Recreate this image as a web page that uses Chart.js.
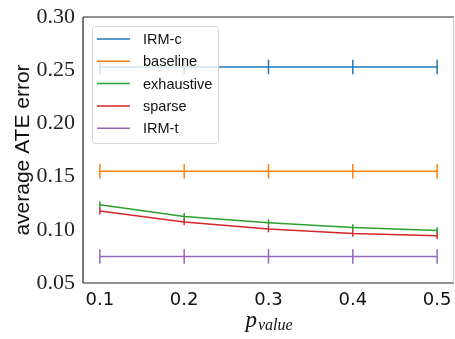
<!DOCTYPE html>
<html>
<head>
<meta charset="utf-8">
<script src="https://cdn.jsdelivr.net/npm/chart.js@4"></script>
<style>
  html, body { margin: 0; padding: 0; background: #fff; }
  #wrap { width: 455px; height: 339px; }
</style>
</head>
<body>
<div id="wrap"><canvas id="myChart" width="455" height="339"></canvas></div>
<script>
// 데이터
var pValues = [0.1, 0.2, 0.3, 0.4, 0.5];
var xTicks = [0.1, 0.2, 0.3, 0.4, 0.5];
var yTicks = [0.05, 0.10, 0.15, 0.20, 0.25, 0.30];

var irmC = [0.253, 0.253, 0.253, 0.253, 0.253];
var baseline = [0.155, 0.155, 0.155, 0.155, 0.155];
var exhaustive = [0.1236, 0.1125, 0.1067, 0.1022, 0.0993];
var sparse = [0.1176, 0.1073, 0.1007, 0.0965, 0.0943];
var irmT = [0.075, 0.075, 0.075, 0.075, 0.075];

var irmCErr = [0.0068, 0.0068, 0.0068, 0.0068, 0.0068];
var baselineErr = [0.0068, 0.0068, 0.0068, 0.0068, 0.0068];
var exhaustiveErr = [0.0032, 0.0032, 0.003, 0.003, 0.003];
var sparseErr = [0.0032, 0.003, 0.003, 0.003, 0.003];
var irmTErr = [0.0068, 0.0068, 0.0068, 0.0068, 0.0068];

function pts(ys) {
  return pValues.map(function (x, i) { return { x: x, y: ys[i] }; });
}

function series(label, ys, err, color) {
  return {
    label: label,
    data: pts(ys),
    err: err,
    borderColor: color,
    backgroundColor: color,
    borderWidth: 1.5,
    pointRadius: 0,
    tension: 0,
    fill: false
  };
}

// 에러바 + 테두리 + 범례 + x축 제목
var extras = {
  id: 'extras',
  afterDatasetsDraw: function (chart) {
    var ctx = chart.ctx, xs = chart.scales.x, ys = chart.scales.y;
    ctx.save();
    chart.data.datasets.forEach(function (ds) {
      ctx.strokeStyle = ds.borderColor;
      ctx.lineWidth = 1.5;
      ds.data.forEach(function (p, i) {
        var px = xs.getPixelForValue(p.x);
        ctx.beginPath();
        ctx.moveTo(px, ys.getPixelForValue(p.y - ds.err[i]));
        ctx.lineTo(px, ys.getPixelForValue(p.y + ds.err[i]));
        ctx.stroke();
      });
    });
    ctx.restore();
  },
  afterDraw: function (chart) {
    var ctx = chart.ctx, a = chart.chartArea;
    ctx.save();
    // 테두리
    ctx.lineWidth = 1.2;
    ctx.strokeStyle = '#222';
    ctx.beginPath();
    ctx.moveTo(a.left, a.top); ctx.lineTo(a.right, a.top);
    ctx.moveTo(a.left, a.top); ctx.lineTo(a.left, a.bottom);
    ctx.moveTo(a.left, a.bottom); ctx.lineTo(a.right, a.bottom);
    ctx.stroke();
    ctx.strokeStyle = '#ccc';
    ctx.beginPath();
    ctx.moveTo(a.right - 0.5, a.top); ctx.lineTo(a.right - 0.5, a.bottom);
    ctx.stroke();

    // 범례
    var lx = 92, ly = 26, lw = 126, lh = 117;
    ctx.fillStyle = 'rgba(255,255,255,0.8)';
    ctx.strokeStyle = '#d6d6d6';
    ctx.lineWidth = 1;
    ctx.beginPath();
    ctx.roundRect(lx + 0.5, ly + 0.5, lw, lh, 3);
    ctx.fill();
    ctx.stroke();
    ctx.font = '14.5px "Liberation Sans"';
    ctx.textBaseline = 'middle';
    chart.data.datasets.forEach(function (ds, i) {
      var y = 39 + i * 22.3;
      ctx.strokeStyle = ds.borderColor;
      ctx.lineWidth = 1.5;
      ctx.beginPath();
      ctx.moveTo(97, y); ctx.lineTo(130, y);
      ctx.stroke();
      ctx.fillStyle = '#111';
      ctx.fillText(ds.label, 143, y + 1);
    });

    // x축 제목 p_value
    ctx.fillStyle = '#111';
    ctx.textBaseline = 'alphabetic';
    ctx.font = 'italic 23px "Liberation Serif"';
    var cx = (a.left + a.right) / 2;
    var pw = ctx.measureText('p').width;
    ctx.font = 'italic 16px "Liberation Serif"';
    var vw = ctx.measureText('value').width;
    var sx = cx - (pw + vw) / 2;
    ctx.font = 'italic 23px "Liberation Serif"';
    ctx.fillText('p', sx, 327);
    ctx.font = 'italic 16px "Liberation Serif"';
    ctx.fillText('value', sx + pw + 1, 330);
    ctx.restore();
  }
};

var ctx = document.getElementById('myChart');

new Chart(ctx, {
  type: 'line',
  data: {
    datasets: [
      series('IRM-c', irmC, irmCErr, '#1f77b4'),
      series('baseline', baseline, baselineErr, '#ff7f0e'),
      series('exhaustive', exhaustive, exhaustiveErr, '#2ca02c'),
      series('sparse', sparse, sparseErr, '#d62728'),
      series('IRM-t', irmT, irmTErr, '#9467bd')
    ]
  },
  options: {
    responsive: false,
    animation: false,
    layout: { padding: { top: 17, right: 1, left: 0, bottom: 0 } },
    plugins: {
      legend: { display: false },
      tooltip: { enabled: false }
    },
    scales: {
      x: {
        type: 'linear',
        min: 0.08,
        max: 0.52,
        afterBuildTicks: function (s) { s.ticks = xTicks.map(function (v) { return { value: v }; }); },
        afterFit: function (s) { s.height = 56; },
        grid: { display: false, drawTicks: true, tickLength: 5, tickColor: '#222' },
        border: { display: false },
        ticks: {
          color: '#111',
          padding: 2,
          maxRotation: 0,
          font: { family: 'DejaVu Sans', size: 18 },
          callback: function (v) { return v.toFixed(1); }
        }
      },
      y: {
        min: 0.05,
        max: 0.30,
        afterBuildTicks: function (s) { s.ticks = yTicks.map(function (v) { return { value: v }; }); },
        afterFit: function (s) { s.width = 83; },
        grid: { display: false, drawTicks: true, tickLength: 5, tickColor: '#222' },
        border: { display: false },
        title: {
          display: true,
          text: 'average ATE error',
          color: '#111',
          font: { family: 'Liberation Sans', size: 21 },
          padding: { top: 11, bottom: 0 }
        },
        ticks: {
          color: '#222',
          padding: 3,
          font: { family: 'Liberation Serif', size: 22 },
          callback: function (v) { return v.toFixed(2); }
        }
      }
    }
  },
  plugins: [extras]
});
</script>
</body>
</html>
